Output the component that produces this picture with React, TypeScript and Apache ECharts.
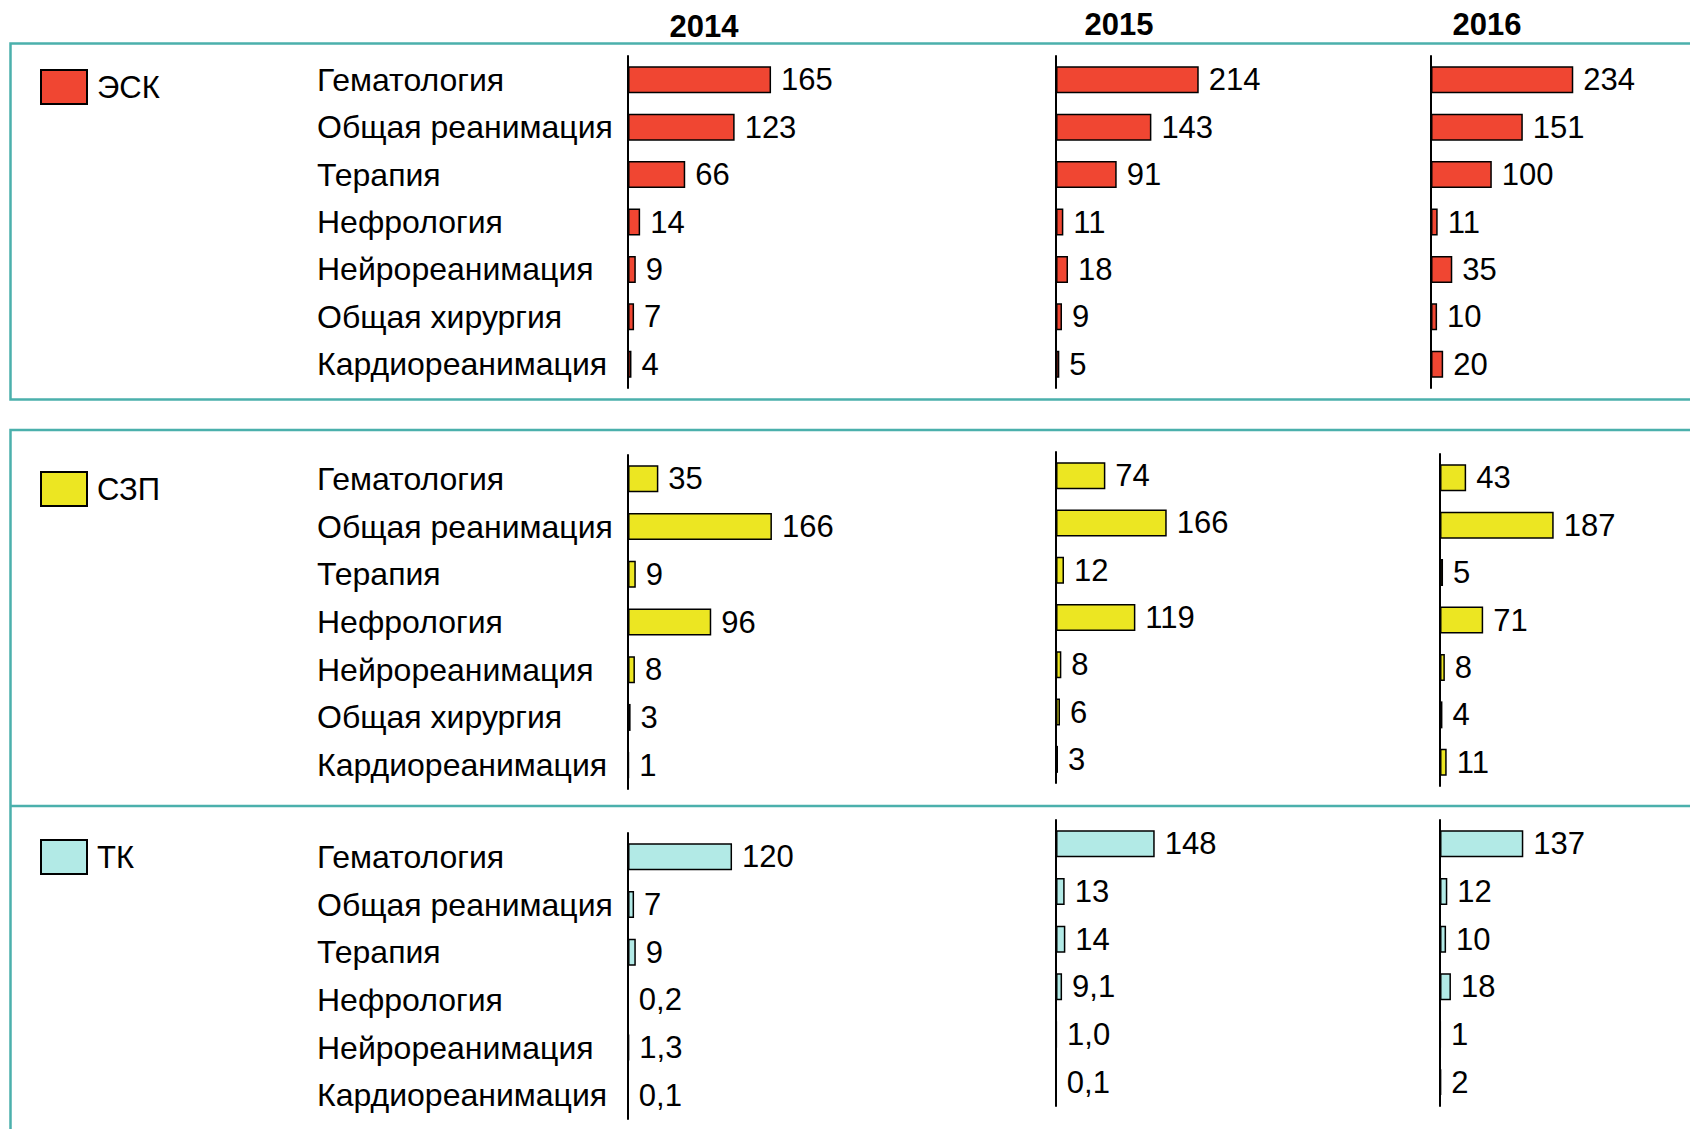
import React, { useEffect, useRef } from "react";
import * as echarts from "echarts";

// ---- data ----
const years = ["2014", "2015", "2016"];
const groups = ["ЭСК", "СЗП", "ТК"];
const categories7 = [
  "Гематология",
  "Общая реанимация",
  "Терапия",
  "Нефрология",
  "Нейрореанимация",
  "Общая хирургия",
  "Кардиореанимация",
];
const categoriesTK = [
  "Гематология",
  "Общая реанимация",
  "Терапия",
  "Нефрология",
  "Нейрореанимация",
  "Кардиореанимация",
];

const esk2014 = [165, 123, 66, 14, 9, 7, 4];
const esk2015 = [214, 143, 91, 11, 18, 9, 5];
const esk2016 = [234, 151, 100, 11, 35, 10, 20];

const szp2014 = [35, 166, 9, 96, 8, 3, 1];
const szp2015 = [74, 166, 12, 119, 8, 6, 3];
const szp2016 = [43, 187, 5, 71, 8, 4, 11];

const tk2014 = [120, 7, 9, 0.2, 1.3, 0.1];
const tk2015 = [148, 13, 14, 9.1, 1.0, 0.1];
const tk2016 = [137, 12, 10, 18, 1, 2];
// 2015 TK shows small values with one decimal ("1,0")
const tkSmallDecimals = [0, 1, 0];

const groupData = [
  [esk2014, esk2015, esk2016],
  [szp2014, szp2015, szp2016],
  [tk2014, tk2015, tk2016],
];
const groupCats = [categories7, categories7, categoriesTK];

// ---- layout / style ----
const colors = ["#F04632", "#ECE622", "#B2EAE6"];
const teal = "#4BB0AC";
const FONT = "Liberation Sans";
const axisLeft = [
  [628, 1056, 1431],
  [628, 1056, 1440],
  [628, 1056, 1440],
];
const gridTop = [
  [56, 56, 56],
  [455, 452, 454],
  [833, 820, 820],
];
const gridHeight = [
  [332, 332, 332],
  [334, 331, 332],
  [286, 286, 286],
];
const axisMax = [200, 250, 250];
const gridWidth = [173.4, 166.75, 152];
const legendTop = [69, 471, 839];
const yearPos = [
  [704, 26],
  [1119, 24],
  [1487, 24],
];

function fmt(v: number, yi: number, gi: number): string {
  if (gi === 2 && v < 10 && (tkSmallDecimals[yi] || !Number.isInteger(v))) {
    return v.toFixed(1).replace(".", ",");
  }
  return String(v);
}

export default function App() {
  const ref = useRef<HTMLDivElement>(null);

  useEffect(() => {
    if (!ref.current) return;
    const chart = echarts.init(ref.current, undefined, { renderer: "svg" });

    const grids: any[] = [];
    const xAxes: any[] = [];
    const yAxes: any[] = [];
    const series: any[] = [];

    groups.forEach((g, gi) => {
      years.forEach((yr, yi) => {
        const idx = grids.length;
        grids.push({
          left: axisLeft[gi][yi],
          top: gridTop[gi][yi],
          width: gridWidth[yi],
          height: gridHeight[gi][yi],
          containLabel: false,
        });
        xAxes.push({
          type: "value",
          gridIndex: idx,
          min: 0,
          max: axisMax[yi],
          show: false,
        });
        yAxes.push({
          type: "category",
          gridIndex: idx,
          inverse: true,
          data: groupCats[gi],
          axisLine: { show: true, lineStyle: { color: "#000", width: 2 } },
          axisTick: { show: false },
          splitLine: { show: false },
          axisLabel: {
            show: yi === 0,
            align: "left",
            margin: axisLeft[gi][yi] - 317,
            fontSize: 32,
            color: "#000",
            fontFamily: FONT,
          },
        });
        series.push({
          type: "bar",
          name: g,
          xAxisIndex: idx,
          yAxisIndex: idx,
          data: groupData[gi][yi],
          barWidth: 27,
          itemStyle: { color: colors[gi], borderColor: "#000", borderWidth: 1.5 },
          label: {
            show: true,
            position: "right",
            distance: 10,
            fontSize: 31,
            color: "#000",
            fontFamily: FONT,
            formatter: (p: any) => fmt(p.value, yi, gi),
          },
        });
      });
    });

    const legends = groups.map((g, gi) => ({
      data: [g],
      left: 40,
      top: legendTop[gi],
      padding: 0,
      itemWidth: 46,
      itemHeight: 34,
      icon: "rect",
      itemStyle: { borderColor: "#000", borderWidth: 2 },
      textStyle: { fontSize: 31, color: "#000", fontFamily: FONT, padding: [0, 0, 0, 5] },
      selectedMode: false,
    }));

    const graphic: any[] = [
      {
        type: "rect",
        shape: { x: 10.5, y: 43.5, width: 1700, height: 356 },
        style: { fill: "none", stroke: teal, lineWidth: 2.5 },
        silent: true,
      },
      {
        type: "rect",
        shape: { x: 10.5, y: 430, width: 1700, height: 800 },
        style: { fill: "none", stroke: teal, lineWidth: 2.5 },
        silent: true,
      },
      {
        type: "line",
        shape: { x1: 10.5, y1: 806, x2: 1710, y2: 806 },
        style: { stroke: teal, lineWidth: 2.5 },
        silent: true,
      },
      ...years.map((yr, yi) => ({
        type: "text",
        x: yearPos[yi][0],
        y: yearPos[yi][1],
        style: {
          text: yr,
          font: `bold 31px "${FONT}"`,
          fill: "#000",
          align: "center",
          verticalAlign: "middle",
          textAlign: "center",
          textVerticalAlign: "middle",
        },
      })),
    ];

    chart.setOption({
      animation: false,
      backgroundColor: "#fff",
      textStyle: { fontFamily: FONT },
      grid: grids,
      xAxis: xAxes,
      yAxis: yAxes,
      legend: legends,
      series,
      graphic,
    });

    return () => chart.dispose();
  }, []);

  return (
    <div
      ref={ref}
      style={{ position: "absolute", left: 0, top: 0, width: 1690, height: 1129 }}
    />
  );
}
